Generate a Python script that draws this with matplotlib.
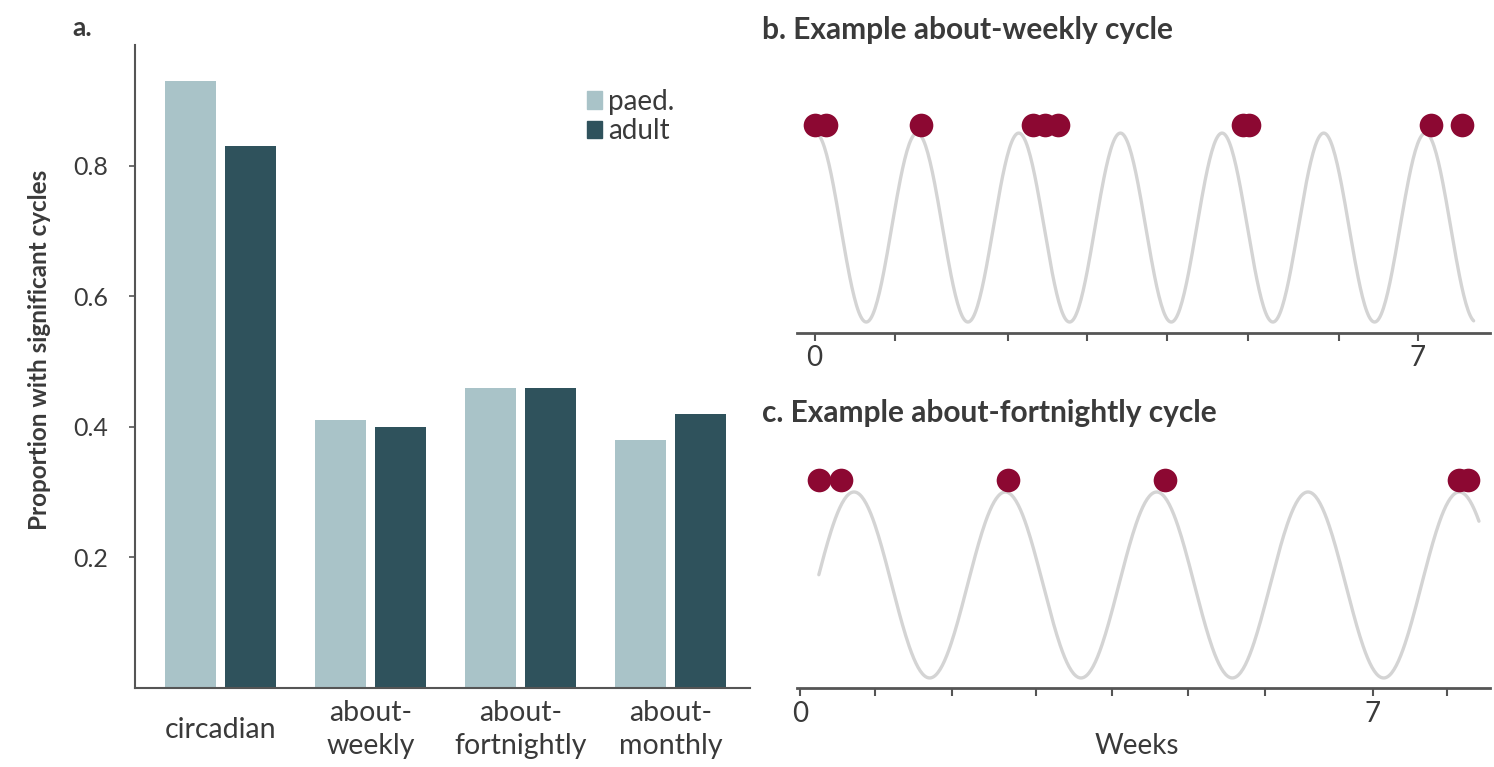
import numpy as np
import matplotlib
matplotlib.use("Agg")
import matplotlib.pyplot as plt
from matplotlib.patches import Patch

plt.rcParams['font.family'] = ['Lato', 'DejaVu Sans']

# ---------------- data ----------------
categories = ["circadian", "about-\nweekly", "about-\nfortnightly", "about-\nmonthly"]
paed_values = [0.93, 0.41, 0.46, 0.38]
adult_values = [0.83, 0.40, 0.46, 0.42]
series_names = ["paed.", "adult"]
yticks_a = [0.2, 0.4, 0.6, 0.8]

# panel b: about-weekly example (weeks)
weekly_period = 1.18
weekly_peak = 0.01
weekly_start, weekly_end = 0.0, 7.65
weekly_events = [0.0, 0.13, 1.23, 2.54, 2.67, 2.83, 4.97, 5.04, 7.16, 7.52]
weekly_ticks = [0, 0.93, 2.25, 3.16, 4.09, 5.03, 6.09, 7.0]

# panel c: about-fortnightly example (weeks)
fort_period = 1.85
fort_peak = 0.66
fort_start, fort_end = 0.23, 8.30
fort_events = [0.23, 0.50, 2.54, 4.46, 8.06, 8.17]
fort_ticks = [0, 0.92, 1.86, 2.88, 3.82, 4.74, 5.68, 7.0, 7.91]
labelled_ticks = {0: "0", 7.0: "7"}

# ---------------- style ----------------
c_paed = "#A9C3C8"
c_adult = "#2F525C"
c_dot = "#8C0832"
c_curve = "#D4D4D4"
c_text = "#3a3a3a"
c_spine = "#555555"

W, H = 1494, 767
fig = plt.figure(figsize=(W / 100, H / 100), dpi=100)

def ax_rect(x0, y0, x1, y1):
    return [x0 / W, 1 - y1 / H, (x1 - x0) / W, (y1 - y0) / H]

# ---------------- panel a ----------------
axa = fig.add_axes(ax_rect(135, 45, 750, 688))
x = np.arange(len(categories))
bw = 0.34
axa.bar(x - 0.2, paed_values, bw, color=c_paed, label=series_names[0])
axa.bar(x + 0.2, adult_values, bw, color=c_adult, label=series_names[1])
axa.set_xlim(-0.573, 3.527)
axa.set_ylim(0, 0.985)
axa.set_yticks(yticks_a)
axa.set_yticklabels([f"{v:.1f}" for v in yticks_a], fontsize=18, color=c_text)
axa.set_xticks(x)
axa.set_xticklabels(categories, fontsize=20.5, color=c_text, linespacing=1.32)
for lab in axa.get_xticklabels():
    lab.set_verticalalignment('center')
axa.tick_params(axis='x', length=0, pad=30)
axa.tick_params(axis='y', length=4, width=1.2, color=c_spine, pad=15)
for s in ['top', 'right']:
    axa.spines[s].set_visible(False)
for s in ['left', 'bottom']:
    axa.spines[s].set_color(c_spine)
    axa.spines[s].set_linewidth(1.5)

handles = [Patch(color=c_paed), Patch(color=c_adult)]
fig.legend(handles, series_names, loc='upper left',
           bbox_to_anchor=(562 / W, 1 - 64 / H), frameon=False,
           handlelength=0.55, handleheight=0.6, handletextpad=0.2,
           labelspacing=0.12, fontsize=20, labelcolor=c_text)

fig.text(40 / W, 1 - 350 / H, "Proportion with significant cycles", rotation=90,
         ha='center', va='center', fontsize=17.5, fontweight='bold', color=c_text)
fig.text(72 / W, 1 - 28 / H, "a.", ha='left', va='center', fontsize=19,
         fontweight='bold', color=c_text)

# ---------------- panels b and c ----------------
def cycle_panel(rect, period, peak, t0, t1, events, ticks, ylim, dot_y, xlim):
    ax = fig.add_axes(rect)
    t = np.linspace(t0, t1, 600)
    ax.plot(t, np.cos(2 * np.pi * (t - peak) / period), color=c_curve, lw=2.4,
            solid_capstyle='round', zorder=1)
    ax.scatter(events, [dot_y] * len(events), s=290, color=c_dot, zorder=3,
               linewidths=0)
    ax.set_xlim(*xlim)
    ax.set_ylim(*ylim)
    ax.set_yticks([])
    ax.set_xticks(ticks)
    ax.set_xticklabels([labelled_ticks.get(tk, "") for tk in ticks],
                       fontsize=20, color=c_text)
    ax.tick_params(axis='x', length=6, width=1.5, color=c_spine, pad=3)
    for s in ['top', 'right', 'left']:
        ax.spines[s].set_visible(False)
    ax.spines['bottom'].set_color(c_spine)
    ax.spines['bottom'].set_linewidth(2)
    return ax

axb = cycle_panel(ax_rect(797, 100, 1490, 333), weekly_period, weekly_peak,
                  weekly_start, weekly_end, weekly_events, weekly_ticks,
                  (-1.116, 1.35), 1.085, (-0.204, 7.84))
axc = cycle_panel(ax_rect(797, 460, 1490, 688), fort_period, fort_peak,
                  fort_start, fort_end, fort_events, fort_ticks,
                  (-1.108, 1.344), 1.13, (-0.037, 8.435))

fig.text(762 / W, 1 - 30 / H, "b. Example about-weekly cycle", ha='left',
         va='center', fontsize=21.5, fontweight='bold', color=c_text)
fig.text(762 / W, 1 - 413 / H, "c. Example about-fortnightly cycle", ha='left',
         va='center', fontsize=21.5, fontweight='bold', color=c_text)
fig.text(1137 / W, 1 - 746 / H, "Weeks", ha='center', va='center', fontsize=20,
         color=c_text)

fig.savefig("out.png", dpi=100, facecolor="white")
